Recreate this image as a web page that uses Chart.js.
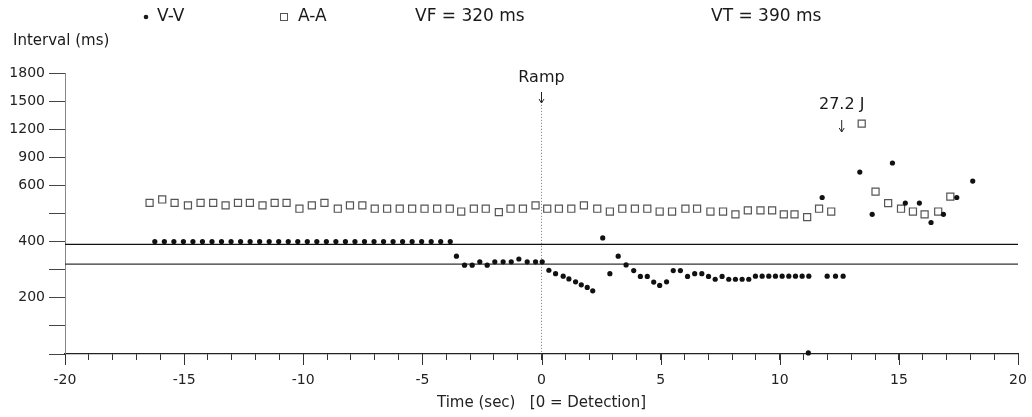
<!DOCTYPE html>
<html><head><meta charset="utf-8">
<script src="https://cdn.jsdelivr.net/npm/chart.js@4.4.1/dist/chart.umd.min.js"></script>
<style>html,body{margin:0;padding:0;background:#fff;}#wrap{width:1032px;height:417px;}</style>
</head><body><div id="wrap"><canvas id="c" width="1032" height="417"></canvas></div>
<script>
// ---------- data ----------
const vvTime = [-16.23,-15.83,-15.43,-15.03,-14.63,-14.23,-13.83,-13.43,-13.03,-12.63,-12.23,-11.83,-11.43,-11.03,-10.63,-10.23,-9.83,-9.43,-9.03,-8.63,-8.23,-7.83,-7.43,-7.03,-6.63,-6.23,-5.83,-5.43,-5.03,-4.63,-4.23,-3.83,
  -3.57,-3.23,-2.91,-2.59,-2.28,-1.96,-1.61,-1.27,-0.95,-0.60,-0.25,0.03,0.31,0.59,0.91,1.15,1.43,1.67,1.92,2.15,2.57,2.87,3.22,3.55,3.87,4.15,4.44,4.71,4.96,5.25,5.53,5.83,6.13,6.43,6.73,7.01,7.29,7.58,7.86,8.14,8.42,8.70,
  8.98,9.26,9.54,9.82,10.10,10.38,10.66,10.94,11.22,11.20,11.78,11.99,12.34,12.66,13.36,13.88,14.73,15.27,15.86,16.35,16.87,17.43,18.10];
const vvInterval = [400,400,400,400,400,400,400,400,400,400,400,400,400,400,400,400,400,400,400,400,400,400,400,400,400,400,400,400,400,400,400,400,
  348,316,316,328,316,328,328,328,338,328,328,328,298,286,277,267,257,246,237,225,413,286,348,317,297,276,276,256,244,257,297,297,276,286,286,276,266,276,266,266,266,266,
  277,277,277,277,277,277,277,277,277,4,557,277,277,277,742,497,839,537,537,468,497,557,646];
const aaTime = [-16.45,-15.92,-15.40,-14.84,-14.31,-13.78,-13.26,-12.74,-12.24,-11.71,-11.20,-10.70,-10.16,-9.64,-9.11,-8.55,-8.04,-7.52,-7.00,-6.48,-5.95,-5.43,-4.91,-4.38,-3.85,-3.37,-2.84,-2.34,-1.79,-1.30,-0.78,-0.25,
  0.24,0.73,1.25,1.78,2.34,2.87,3.39,3.92,4.44,4.96,5.48,6.04,6.53,7.09,7.62,8.14,8.66,9.19,9.68,10.17,10.62,11.15,11.65,12.16,13.44,14.02,14.55,15.09,15.59,16.08,16.65,17.16];
const aaInterval = [538,550,538,529,538,538,529,538,538,529,538,538,517,529,538,517,529,529,517,517,517,517,517,517,517,507,517,517,505,517,517,529,
  517,517,517,529,517,507,517,517,517,507,507,517,517,507,507,497,511,511,511,497,497,487,517,507,1260,578,537,517,507,497,507,560];
const vtLimit = 390;           // VT = 390 ms
const vfLimit = 320;           // VF = 320 ms
const rampTime = 0;
const shockTime = 12.6;
const xTickMajor = [-20,-15,-10,-5,0,5,10,15,20];
const yTickValues = [0,100,200,300,400,500,600,900,1200,1500,1800];
const yTickLabels = [200,400,600,900,1200,1500,1800];

// ---------- broken y scale (0-600 expanded, 600-1800 compressed) ----------
const Y_BREAK = 600, Y_MAX = 1800, BREAK_FRAC = 0.6;
class BrokenLinearScale extends Chart.LinearScale {
  getPixelForValue(v) {
    const f = v <= Y_BREAK ? (v / Y_BREAK) * BREAK_FRAC
      : BREAK_FRAC + (v - Y_BREAK) / (Y_MAX - Y_BREAK) * (1 - BREAK_FRAC);
    return this.getPixelForDecimal(f);
  }
  getValueForPixel(p) {
    const f = this.getDecimalForPixel(p);
    return f <= BREAK_FRAC ? f / BREAK_FRAC * Y_BREAK
      : Y_BREAK + (f - BREAK_FRAC) / (1 - BREAK_FRAC) * (Y_MAX - Y_BREAK);
  }
}
BrokenLinearScale.id = 'brokenLinear';
BrokenLinearScale.defaults = Chart.LinearScale.defaults;
Chart.register(BrokenLinearScale);

Chart.defaults.font.family = '"DejaVu Sans", sans-serif';
Chart.defaults.color = '#222';

const FONT = '"DejaVu Sans", sans-serif';
const annot = {
  id: 'annot',
  afterDraw(chart) {
    const ctx = chart.ctx, xs = chart.scales.x, ys = chart.scales.y;
    ctx.save();
    // longer major ticks on x axis
    ctx.strokeStyle = '#333'; ctx.lineWidth = 1;
    xTickMajor.forEach(v => {
      const px = Math.round(xs.getPixelForValue(v)) + 0.5;
      ctx.beginPath(); ctx.moveTo(px, ys.bottom); ctx.lineTo(px, ys.bottom + 11); ctx.stroke();
    });
    ctx.fillStyle = '#1a1a1a'; ctx.strokeStyle = '#1a1a1a';
    ctx.textBaseline = 'middle';
    // legend row
    ctx.beginPath(); ctx.arc(146, 17, 2.3, 0, Math.PI * 2); ctx.fill();
    ctx.font = '17px ' + FONT; ctx.textAlign = 'left';
    ctx.fillText('V-V', 157, 17);
    ctx.strokeStyle = '#555'; ctx.lineWidth = 1;
    ctx.strokeRect(280.5, 13.5, 7, 7);
    ctx.fillText('A-A', 298, 17);
    ctx.fillText('VF = ' + vfLimit + ' ms', 415, 17);
    ctx.fillText('VT = ' + vtLimit + ' ms', 711, 17);
    // y axis title
    ctx.font = '15px ' + FONT;
    ctx.fillText('Interval (ms)', 13, 41);
    // Ramp annotation
    const rx = xs.getPixelForValue(rampTime);
    ctx.font = '16px ' + FONT; ctx.textAlign = 'center';
    ctx.fillText('Ramp', rx, 78);
    drawArrow(ctx, rx, 92, 103);
    // shock annotation
    const sx = xs.getPixelForValue(shockTime);
    ctx.fillText('27.2 J', sx, 105);
    drawArrow(ctx, sx, 120, 132);
    ctx.restore();
  }
};
function drawArrow(ctx, x, y0, y1) {
  ctx.save();
  ctx.strokeStyle = '#222'; ctx.lineWidth = 1;
  ctx.beginPath(); ctx.moveTo(x, y0); ctx.lineTo(x, y1); ctx.stroke();
  ctx.beginPath(); ctx.moveTo(x - 2.5, y1 - 4); ctx.lineTo(x, y1); ctx.lineTo(x + 2.5, y1 - 4); ctx.stroke();
  ctx.restore();
}

const toPts = (xs, ys) => xs.map((x, i) => ({ x, y: ys[i] }));

new Chart(document.getElementById('c'), {
  type: 'scatter',
  data: {
    datasets: [
      { label: 'V-V', data: toPts(vvTime, vvInterval), pointStyle: 'circle', pointRadius: 2.6,
        backgroundColor: '#111', borderWidth: 0, order: 1, clip: false },
      { label: 'A-A', data: toPts(aaTime, aaInterval), pointStyle: 'rect', pointRadius: 5,
        backgroundColor: 'rgba(255,255,255,0)', borderColor: '#555', borderWidth: 1.2, order: 2, clip: false },
      { label: 'VT', type: 'line', data: [{x:-20,y:vtLimit},{x:20,y:vtLimit}], borderColor: '#111',
        borderWidth: 1.3, pointRadius: 0, order: 5 },
      { label: 'VF', type: 'line', data: [{x:-20,y:vfLimit},{x:20,y:vfLimit}], borderColor: '#333',
        borderWidth: 1.3, pointRadius: 0, order: 5 },
      { label: 'Ramp', type: 'line', data: [{x:rampTime,y:1460},{x:rampTime,y:0}], borderColor: '#777',
        borderWidth: 1, borderDash: [1, 2], pointRadius: 0, order: 6 }
    ]
  },
  options: {
    responsive: false, animation: false, devicePixelRatio: 1,
    layout: { padding: { top: 73, right: 14, left: 0, bottom: 0 } },
    plugins: { legend: { display: false }, tooltip: { enabled: false } },
    scales: {
      x: {
        type: 'linear', min: -20, max: 20,
        afterFit: s => { s.height = 63; s.paddingRight = 0; s.paddingLeft = 0; },
        ticks: { stepSize: 1, autoSkip: false, maxRotation: 0, padding: 12,
          font: { size: 14 }, color: '#222',
          callback: v => (xTickMajor.includes(v) ? String(v) : '') },
        grid: { drawOnChartArea: false, drawTicks: true, tickLength: 6, color: '#333' },
        border: { display: true, color: '#222', width: 1.2 },
        title: { display: true, text: 'Time (sec)   [0 = Detection]', font: { size: 15 }, color: '#222',
          padding: { top: 0, bottom: 5 } }
      },
      y: {
        type: 'brokenLinear', min: 0, max: 1800,
        afterFit: s => { s.width = 65; s.paddingTop = 0; s.paddingBottom = 0; },
        afterBuildTicks: s => { s.ticks = yTickValues.map(v => ({ value: v })); },
        ticks: { padding: 4, font: { size: 14 }, color: '#222',
          callback: v => (yTickLabels.includes(v) ? String(v) : '') },
        grid: { drawOnChartArea: false, drawTicks: true, tickLength: 16, color: '#444' },
        border: { display: true, color: '#888', dash: [2, 2] }
      }
    }
  },
  plugins: [annot]
});
</script></body></html>
